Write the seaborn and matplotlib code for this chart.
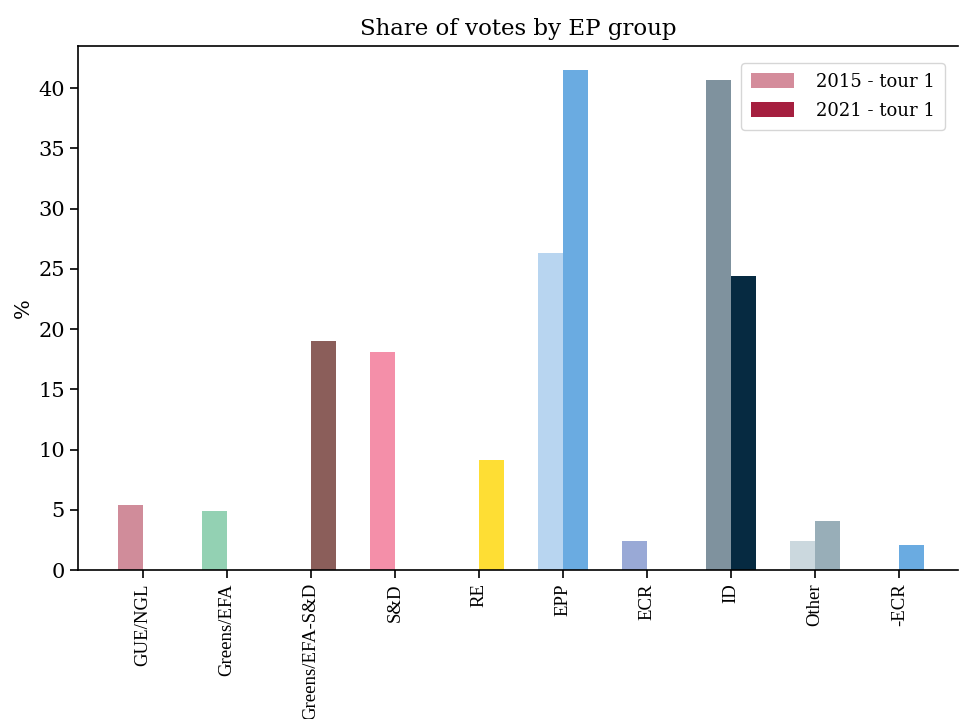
import matplotlib
matplotlib.use("Agg")
import matplotlib.pyplot as plt
import seaborn as sns
import pandas as pd
from matplotlib.patches import Patch

categories = ["GUE/NGL", "Greens/EFA", "Greens/EFA-S&D", "S&D", "RE", "EPP", "ECR", "ID", "Other", "-ECR"]
votes_2015 = [5.4, 4.9, 0.0, 18.1, 0.0, 26.3, 2.4, 40.7, 2.4, 0.0]
votes_2021 = [0.0, 0.0, 19.0, 0.0, 9.1, 41.5, 0.0, 24.4, 4.1, 2.1]
series_labels = ["2015 - tour 1", "2021 - tour 1"]
colors_2015 = ["#d08c9a", "#93d1b3", "#8b5e5a", "#f48fa9", "#fede34", "#b8d5f0", "#99a9d6", "#7f929e", "#cbd8de", "#6aabe1"]
colors_2021 = ["#d08c9a", "#93d1b3", "#8b5e5a", "#f48fa9", "#fede34", "#6aabe1", "#99a9d6", "#062a41", "#98aeb8", "#6aabe1"]
legend_colors = ["#d48c9b", "#a51f3f"]

df = pd.DataFrame({
    "group": categories * 2,
    "value": votes_2015 + votes_2021,
    "series": [series_labels[0]] * len(categories) + [series_labels[1]] * len(categories),
})

sns.set_style("white")
plt.rcParams["font.family"] = ["DejaVu Serif"]
plt.rcParams["text.color"] = "black"
plt.rcParams["axes.labelcolor"] = "black"

fig = plt.figure(figsize=(9.61, 7.19), dpi=100)
ax = fig.add_axes([0.0812, 0.2072, 0.9158, 0.7288])

sns.barplot(data=df, x="group", y="value", hue="series", order=categories,
            hue_order=series_labels, width=0.6, ax=ax, legend=False,
            saturation=1, err_kws={"linewidth": 0})

for cont, cols in zip(ax.containers, [colors_2015, colors_2021]):
    for bar, c in zip(cont, cols):
        bar.set_facecolor(c)
        bar.set_edgecolor("none")

ax.set_xlim(-0.77, 9.7)
ax.set_ylim(0, 43.5)
ax.set_yticks(range(0, 45, 5))
ax.set_xlabel("")
ax.set_ylabel("%", fontsize=15, color="black")
ax.set_title("Share of votes by EP group", fontsize=16.5, pad=8, color="black")

for s in ax.spines.values():
    s.set_color("black")
    s.set_linewidth(1.2)
ax.spines["right"].set_visible(False)

ax.tick_params(axis="y", labelsize=15, length=6, width=1.2, direction="out", left=True, colors="black")
ax.tick_params(axis="x", length=6, width=1.2, direction="out", bottom=True, colors="black")
ax.set_xticks(range(len(categories)))
ax.set_xticklabels(categories, rotation=90, fontsize=13.5, family=["Liberation Serif"], color="black")

handles = [Patch(facecolor=c, edgecolor="none") for c in legend_colors]
leg = ax.legend(handles, series_labels, loc="upper right", fontsize=13, frameon=True,
                handlelength=2.4, handleheight=0.9, borderpad=0.55, labelspacing=0.6,
                handletextpad=1.2, edgecolor="#cccccc", bbox_to_anchor=(0.995, 0.985))
for t in leg.get_texts():
    t.set_color("black")

fig.savefig("out.png", dpi=100)
